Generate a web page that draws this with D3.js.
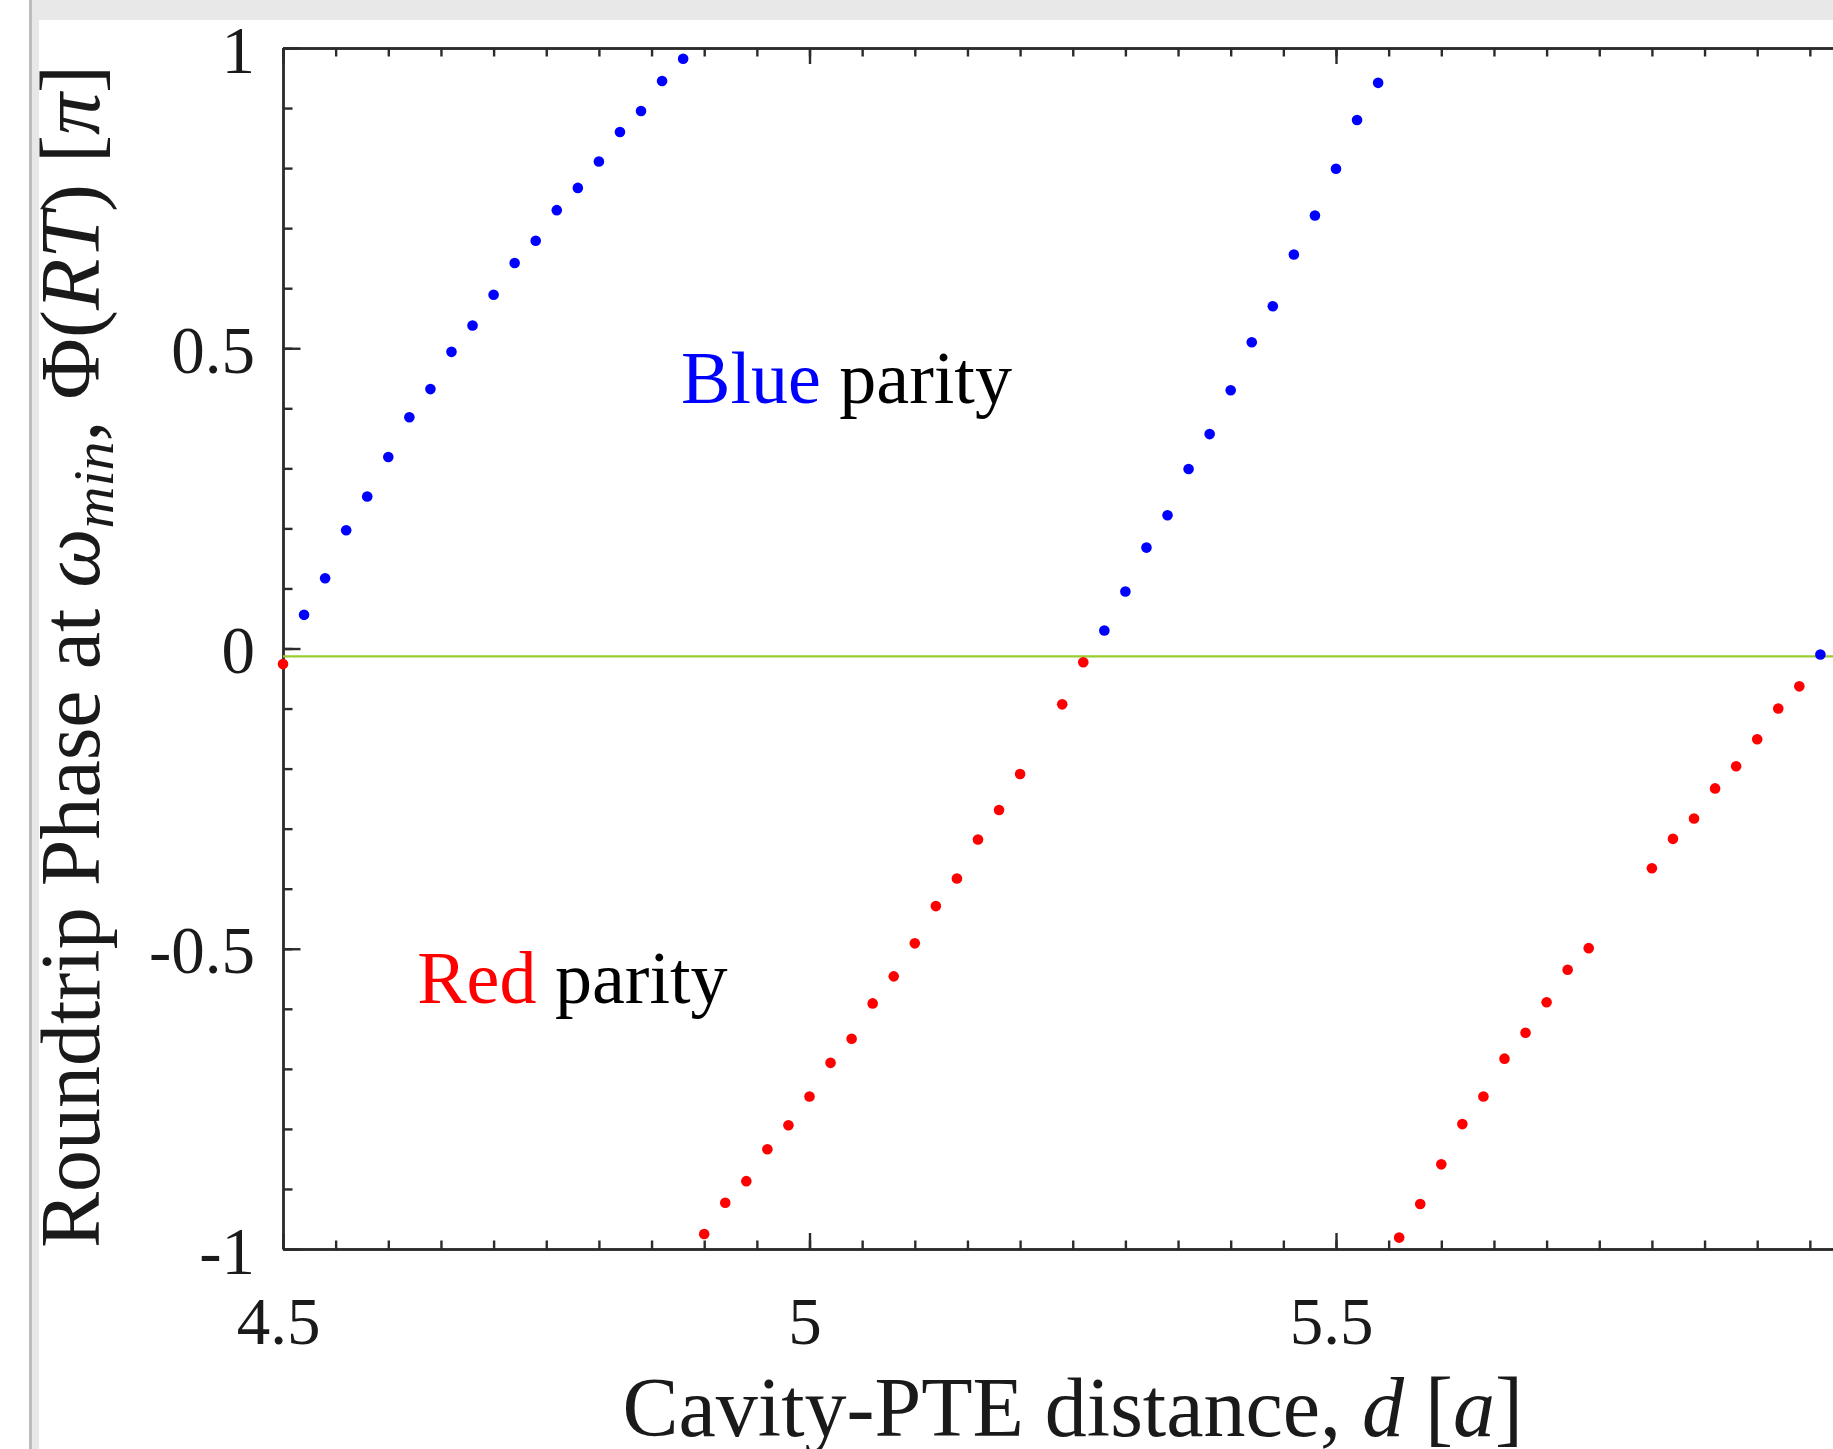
<!DOCTYPE html>
<html lang="en">
<head>
  <meta charset="UTF-8" />
  <title>Roundtrip phase vs cavity-PTE distance</title>
  <script src="https://d3js.org/d3.v7.min.js"></script>
  <style>
    body { margin: 0; background: #fff; overflow: hidden; }
    svg { display: block; font-family: "Liberation Serif", "Times New Roman", serif; }
    .axis path, .axis line { stroke: #2b2b2b; stroke-width: 2.4px; }
    .axis text { font-size: 67px; fill: #1a1a1a; font-family: "Liberation Serif", serif; }
    .title { font-size: 84px; fill: #1a1a1a; }
    .note { font-size: 74px; }
  </style>
</head>
<body>
<svg width="1833" height="1449"></svg>
<script>
  // points (d in units of a, phase in units of pi)
  const blueD = [4.52, 4.54, 4.56, 4.58, 4.60, 4.62, 4.64, 4.66, 4.68, 4.70,
                 4.72, 4.74, 4.76, 4.78, 4.80, 4.82, 4.84, 4.86, 4.88,
                 5.28, 5.30, 5.32, 5.34, 5.36, 5.38, 5.40, 5.42, 5.44, 5.46,
                 5.48, 5.50, 5.52, 5.54,
                 5.96];
  const bluePhase = [0.056, 0.117, 0.197, 0.253, 0.319, 0.385, 0.432, 0.494, 0.538, 0.589,
                     0.642, 0.679, 0.730, 0.767, 0.811, 0.860, 0.895, 0.945, 0.982,
                     0.030, 0.095, 0.168, 0.222, 0.299, 0.357, 0.430, 0.510, 0.570, 0.656,
                     0.721, 0.799, 0.880, 0.942,
                     -0.010];

  const redD = [4.50,
                4.90, 4.92, 4.94, 4.96, 4.98, 5.00, 5.02, 5.04, 5.06, 5.08,
                5.10, 5.12, 5.14, 5.16, 5.18, 5.20, 5.24, 5.26,
                5.56, 5.58, 5.60, 5.62, 5.64, 5.66, 5.68, 5.70, 5.72, 5.74,
                5.80, 5.82, 5.84, 5.86, 5.88, 5.90, 5.92, 5.94];
  const redPhase = [-0.026,
                    -0.975, -0.923, -0.887, -0.834, -0.794, -0.746, -0.690, -0.650, -0.591, -0.546,
                    -0.491, -0.429, -0.383, -0.318, -0.269, -0.209, -0.093, -0.023,
                    -0.981, -0.925, -0.859, -0.792, -0.746, -0.683, -0.640, -0.589, -0.535, -0.499,
                    -0.366, -0.317, -0.283, -0.233, -0.196, -0.151, -0.100, -0.063];

  const xMajor = [4.5, 5, 5.5, 6];
  const xLabels = ["4.5", "5", "5.5", ""];   // 6 falls outside the visible area
  const xMinor = d3.range(0, 31).map(i => +(4.5 + i * 0.05).toFixed(2));
  const yMajor = [-1, -0.5, 0, 0.5, 1];
  const yLabels = ["-1", "-0.5", "0", "0.5", "1"];
  const yMinor = d3.range(0, 21).map(i => +(-1 + i * 0.1).toFixed(1));
  const zeroLine = -0.013;

  const svg = d3.select("svg");

  // window chrome (grey strip on top and left)
  svg.append("rect").attr("x", 29).attr("y", 0).attr("width", 1804).attr("height", 20).attr("fill", "#e8e8e8");
  svg.append("rect").attr("x", 32).attr("y", 0).attr("width", 7).attr("height", 1449).attr("fill", "#e8e8e8");
  svg.append("rect").attr("x", 29).attr("y", 0).attr("width", 3).attr("height", 1449).attr("fill", "#bdbdbd");

  const x = d3.scaleLinear().domain([4.5, 6]).range([283, 1862.5]);
  const y = d3.scaleLinear().domain([-1, 1]).range([1249, 48]);

  // bottom axis
  svg.append("g").attr("class", "axis").attr("transform", `translate(0,${y(-1)})`)
    .call(d3.axisBottom(x).tickValues(xMinor).tickSizeInner(-8.5).tickSizeOuter(0).tickFormat(""));
  svg.append("g").attr("class", "axis").attr("transform", `translate(0,${y(-1)})`)
    .call(d3.axisBottom(x).tickValues(xMajor).tickSizeInner(-16).tickSizeOuter(0).tickPadding(47)
      .tickFormat((d, i) => xLabels[i]))
    .call(g => g.selectAll("text").attr("dx", "-5"));

  // top axis
  svg.append("g").attr("class", "axis").attr("transform", `translate(0,${y(1)})`)
    .call(d3.axisTop(x).tickValues(xMinor).tickSizeInner(-8.5).tickSizeOuter(0).tickFormat(""));
  svg.append("g").attr("class", "axis").attr("transform", `translate(0,${y(1)})`)
    .call(d3.axisTop(x).tickValues(xMajor).tickSizeInner(-16).tickSizeOuter(0).tickFormat(""));

  // left axis
  svg.append("g").attr("class", "axis").attr("transform", `translate(${x(4.5)},0)`)
    .call(d3.axisLeft(y).tickValues(yMinor).tickSizeInner(-9.5).tickSizeOuter(0).tickFormat(""));
  svg.append("g").attr("class", "axis").attr("transform", `translate(${x(4.5)},0)`)
    .call(d3.axisLeft(y).tickValues(yMajor).tickSizeInner(-17.5).tickSizeOuter(0).tickPadding(28)
      .tickFormat((d, i) => yLabels[i]))
    .call(g => g.selectAll("text").attr("dy", "0.36em"));

  // reference line
  svg.append("line")
    .attr("x1", x(4.5)).attr("x2", x(6))
    .attr("y1", y(zeroLine)).attr("y2", y(zeroLine))
    .attr("stroke", "#9acd32").attr("stroke-width", 2.2);

  // points
  svg.append("g").selectAll("circle")
    .data(redD.map((d, i) => [d, redPhase[i]]))
    .join("circle")
    .attr("cx", d => x(d[0])).attr("cy", d => y(d[1])).attr("r", 5.3)
    .attr("fill", "#ff0000");

  svg.append("g").selectAll("circle")
    .data(blueD.map((d, i) => [d, bluePhase[i]]))
    .join("circle")
    .attr("cx", d => x(d[0])).attr("cy", d => y(d[1])).attr("r", 5.3)
    .attr("fill", "#0000ff");

  // annotations
  const blueNote = svg.append("text").attr("class", "note")
    .attr("x", x(4.878)).attr("y", y(0.409));
  blueNote.append("tspan").attr("fill", "#0000ff").text("Blue");
  blueNote.append("tspan").attr("fill", "#000").text(" parity");

  const redNote = svg.append("text").attr("class", "note")
    .attr("x", x(4.6275)).attr("y", y(-0.590));
  redNote.append("tspan").attr("fill", "#ff0000").text("Red");
  redNote.append("tspan").attr("fill", "#000").text(" parity");

  // axis titles
  const xt = svg.append("text").attr("class", "title")
    .attr("x", (x(4.5) + x(6)) / 2).attr("y", 1436).attr("text-anchor", "middle");
  xt.append("tspan").text("Cavity-PTE distance, ");
  xt.append("tspan").attr("font-style", "italic").text("d");
  xt.append("tspan").text(" [");
  xt.append("tspan").attr("font-style", "italic").text("a");
  xt.append("tspan").text("]");

  const yt = svg.append("text").attr("class", "title")
    .attr("transform", `translate(99,${(y(1) + y(-1)) / 2 + 8}) rotate(-90)`)
    .attr("text-anchor", "middle");
  yt.append("tspan").text("Roundtrip Phase at ");
  yt.append("tspan").attr("font-style", "italic").text("ω");
  yt.append("tspan").attr("font-style", "italic").attr("font-size", "58px").attr("dy", "14").text("min");
  yt.append("tspan").attr("dy", "-14").text(", Φ(");
  yt.append("tspan").attr("font-style", "italic").text("RT");
  yt.append("tspan").text(") [");
  yt.append("tspan").attr("font-style", "italic").text("π");
  yt.append("tspan").text("]");
</script>
</body>
</html>
